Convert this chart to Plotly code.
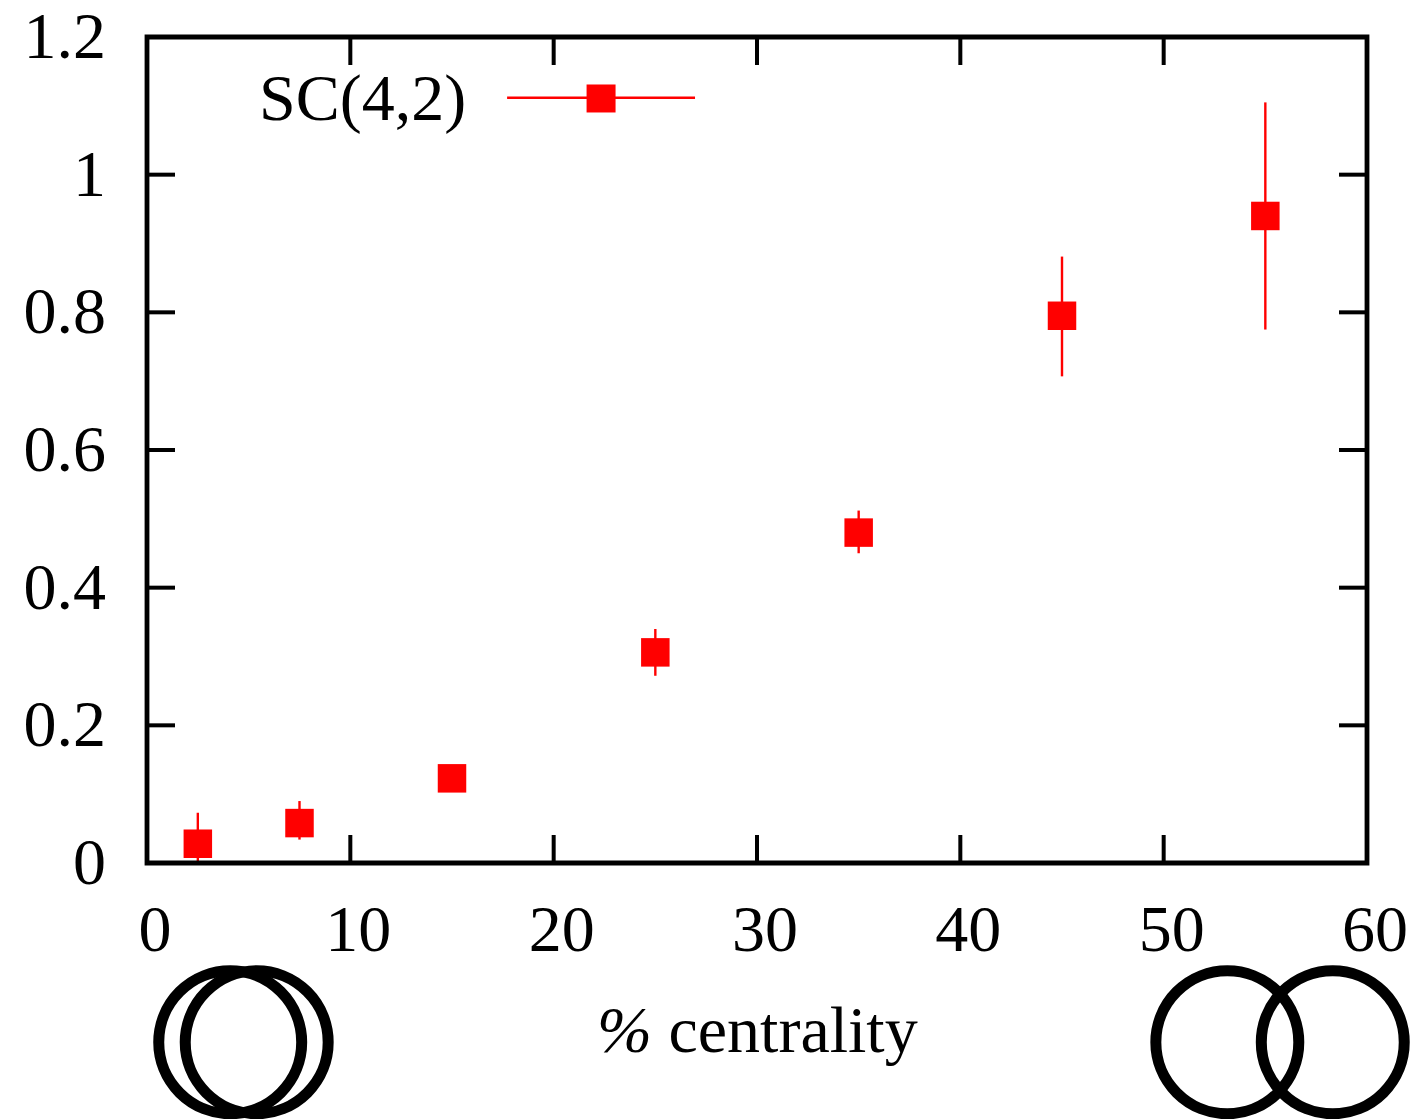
import plotly.graph_objects as go

x = [2.5, 7.5, 15, 25, 35, 45, 55]
y = [0.028, 0.058, 0.123, 0.306, 0.48, 0.795, 0.94]
err_up = [0.045, 0.032, 0.012, 0.034, 0.032, 0.086, 0.165]
err_dn = [0.028, 0.024, 0.012, 0.034, 0.03, 0.088, 0.165]
xticks = [0, 10, 20, 30, 40, 50, 60]
yticks = [0, 0.2, 0.4, 0.6, 0.8, 1, 1.2]
ylabels = ["0", "0.2", "0.4", "0.6", "0.8", "1", "1.2"]
legend_label = "SC(4,2)"
xlabel = "<i>%</i> centrality"

L, R, T, B = 146.75, 1367.25, 36.5, 862.7
W, H = 1412, 1119
font = "Liberation Serif"

fig = go.Figure()
fig.add_trace(go.Scatter(
    x=x, y=y, mode="markers", showlegend=False, cliponaxis=False,
    marker=dict(symbol="square", size=28.5, color="#ff0000", line=dict(width=0)),
    error_y=dict(type="data", symmetric=False, array=err_up, arrayminus=err_dn,
                 color="#ff0000", thickness=2.4, width=0),
))
shapes = []
for t in xticks[1:-1]:
    shapes.append(dict(type="line", xref="x", yref="paper", x0=t, x1=t, y0=0, y1=28/(B-T), line=dict(color="black", width=4)))
    shapes.append(dict(type="line", xref="x", yref="paper", x0=t, x1=t, y0=1, y1=1-28/(B-T), line=dict(color="black", width=4)))
for t in yticks[1:-1]:
    shapes.append(dict(type="line", xref="paper", yref="y", y0=t, y1=t, x0=0, x1=28/(R-L), line=dict(color="black", width=4)))
    shapes.append(dict(type="line", xref="paper", yref="y", y0=t, y1=t, x0=1, x1=1-28/(R-L), line=dict(color="black", width=4)))

shapes.append(dict(type="rect", xref="paper", yref="paper", x0=0, x1=1, y0=0, y1=1, line=dict(color="black", width=4.8)))

def px_x(p): return (p-L)/(R-L)
def px_y(p): return (B-p)/(B-T)

shapes.append(dict(type="line", xref="paper", yref="paper", x0=px_x(507), x1=px_x(695), y0=px_y(97.3), y1=px_y(97.3), line=dict(color="#ff0000", width=2.4)))
shapes.append(dict(type="rect", xref="paper", yref="paper", x0=px_x(586.5), x1=px_x(615.5), y0=px_y(112), y1=px_y(84), fillcolor="#ff0000", line=dict(width=0)))

for cx, cy, r in [(230, 1042, 71.5), (256.5, 1042, 71.5), (1227.5, 1042, 71.5), (1333, 1042, 71.5)]:
    shapes.append(dict(type="circle", xref="paper", yref="paper",
                       x0=px_x(cx-r), x1=px_x(cx+r), y0=px_y(cy+r), y1=px_y(cy-r),
                       line=dict(color="black", width=11)))

annotations = [
    dict(xref="paper", yref="paper", x=px_x(468), y=px_y(98), text=legend_label, showarrow=False,
         xanchor="right", yanchor="middle", font=dict(family=font, size=66, color="black")),
    dict(xref="paper", yref="paper", x=px_x(757), y=px_y(1029), text=xlabel, showarrow=False,
         xanchor="center", yanchor="middle", font=dict(family=font, size=66, color="black")),
]

fig.update_layout(
    width=W, height=H, autosize=False, paper_bgcolor="white", plot_bgcolor="white",
    margin=dict(l=L, r=W-R, t=T, b=H-B, autoexpand=False),
    font=dict(family=font, size=66, color="black"),
    xaxis=dict(range=[0, 60], tickvals=xticks, ticktext=[str(t) for t in xticks], ticks="",
               showgrid=False, zeroline=False, showline=False,
               ticklabelstandoff=21, ticklabelshift=8, ticklabeloverflow="allow"),
    yaxis=dict(range=[0, 1.2], tickvals=yticks, ticktext=ylabels, ticks="",
               showgrid=False, zeroline=False, showline=False,
               ticklabelstandoff=40, ticklabelshift=-2, ticklabeloverflow="allow"),
    shapes=shapes, annotations=annotations,
)
fig.write_html("out.html", config={"displayModeBar": False},
               post_script="document.body.style.margin='0';document.documentElement.style.overflow='hidden';")
